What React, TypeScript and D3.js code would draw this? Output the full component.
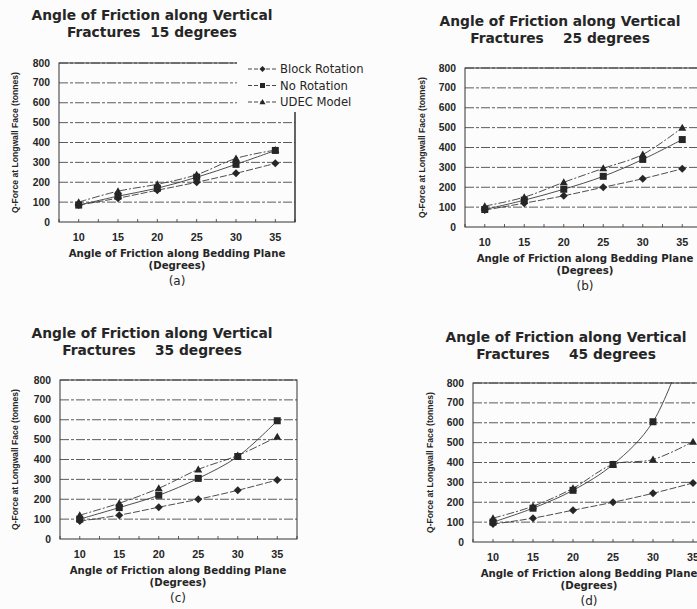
import * as d3 from "d3";

// x categories and y ticks
const angles = [10, 15, 20, 25, 30, 35];
const yTicks = [0, 100, 200, 300, 400, 500, 600, 700, 800];

// (a) vertical fractures 15 degrees
const blockRotation15 = [85, 120, 160, 200, 245, 295];
const noRotation15 = [85, 130, 170, 225, 290, 360];
const udec15 = [100, 155, 190, 238, 320, 362];

// (b) vertical fractures 25 degrees
const blockRotation25 = [85, 120, 157, 200, 243, 293];
const noRotation25 = [88, 135, 190, 255, 340, 440];
const udec25 = [105, 150, 225, 295, 365, 500];

// (c) vertical fractures 35 degrees
const blockRotation35 = [90, 120, 160, 200, 245, 297];
const noRotation35 = [100, 158, 220, 305, 415, 595];
const udec35 = [120, 180, 255, 350, 420, 515];

// (d) vertical fractures 45 degrees
const blockRotation45 = [90, 120, 160, 200, 245, 297];
const noRotation45 = [100, 170, 260, 390, 605, 1100];
const udec45 = [120, 180, 270, 390, 415, 505];

const seriesNames = ["Block Rotation", "No Rotation", "UDEC Model"];

const FONT = "'Liberation Sans', Arial, sans-serif";
const WIDE = "'DejaVu Sans', Verdana, sans-serif";
const INK = "#262626";

type Panel = {
  id: string;
  fracture: string;
  left: number;
  right: number;
  top: number;
  bottom: number;
  titleX: number;
  titleY: number;
  yLabelX: number;
  xTitleX: number;
  series: number[][];
  legend?: boolean;
};

const panels: Panel[] = [
  { id: "a", fracture: "Fractures  15 degrees", left: 59, right: 295, top: 63, bottom: 222, titleX: 152, titleY: 20, yLabelX: 15, xTitleX: 177, series: [blockRotation15, noRotation15, udec15], legend: true },
  { id: "b", fracture: "Fractures    25 degrees", left: 465, right: 702, top: 68, bottom: 227, titleX: 560, titleY: 26, yLabelX: 422, xTitleX: 585, series: [blockRotation25, noRotation25, udec25] },
  { id: "c", fracture: "Fractures    35 degrees", left: 60, right: 297, top: 380, bottom: 539, titleX: 152, titleY: 338, yLabelX: 15, xTitleX: 178, series: [blockRotation35, noRotation35, udec35] },
  { id: "d", fracture: "Fractures    45 degrees", left: 473, right: 713, top: 383, bottom: 542, titleX: 566, titleY: 342, yLabelX: 430, xTitleX: 589, series: [blockRotation45, noRotation45, udec45] },
];

// marker shapes: diamond, square, triangle
const marker = (k: number, x: number, y: number, s = 7) => {
  if (k === 0) {
    const h = s / 2 + 0.5;
    return <path d={`M${x},${y - h}L${x + h},${y}L${x},${y + h}L${x - h},${y}Z`} fill={INK} />;
  }
  if (k === 1) return <rect x={x - s / 2} y={y - s / 2} width={s} height={s} fill={INK} />;
  const h = s / 2 + 0.5;
  return <path d={`M${x},${y - h}L${x + h},${y + h * 0.75}L${x - h},${y + h * 0.75}Z`} fill={INK} />;
};

function ChartPanel({ p }: { p: Panel }) {
  const x = d3.scaleLinear().domain([7.5, 37.5]).range([p.left, p.right]);
  const y = d3.scaleLinear().domain([0, 800]).range([p.bottom, p.top]);
  const line = d3
    .line<number>()
    .x((_, i) => x(angles[i]))
    .y((d) => y(d))
    .curve(d3.curveCatmullRom.alpha(0.5));
  const cy = (p.top + p.bottom) / 2;
  const clipId = `clip-${p.id}`;
  const minorTicks = d3.range(7.5, 37.6, 2.5);

  return (
    <g>
      <defs>
        <clipPath id={clipId}>
          <rect x={p.left} y={p.top - 1} width={p.right - p.left} height={p.bottom - p.top + 2} />
        </clipPath>
      </defs>
      {/* title */}
      <text x={p.titleX} y={p.titleY} textAnchor="middle" fontFamily={WIDE} fontWeight="bold" fontSize={13.8} fill={INK}>
        Angle of Friction along Vertical
      </text>
      <text x={p.titleX} y={p.titleY + 17} textAnchor="middle" fontFamily={WIDE} fontWeight="bold" fontSize={13.8} fill={INK} style={{ whiteSpace: "pre" }}>
        {p.fracture}
      </text>
      {/* grid */}
      {yTicks.slice(1).map((t) => (
        <line key={t} x1={p.left} x2={p.right} y1={y(t)} y2={y(t)} stroke="#4a4a4a" strokeWidth={0.9} strokeDasharray="9 2 3 2" />
      ))}
      {/* frame */}
      <rect x={p.left} y={p.top} width={p.right - p.left} height={p.bottom - p.top} fill="none" stroke="#333" strokeWidth={1} />
      {minorTicks.map((t) => (
        <line key={t} x1={x(t)} x2={x(t)} y1={p.bottom} y2={p.bottom - 3} stroke="#333" strokeWidth={0.8} />
      ))}
      {/* y tick labels */}
      {yTicks.map((t) => (
        <text key={t} x={p.left - 9} y={y(t) + 3.5} textAnchor="end" fontFamily={FONT} fontWeight="bold" fontSize={10.3} fill={INK}>
          {t}
        </text>
      ))}
      {/* x tick labels */}
      {angles.map((a) => (
        <text key={a} x={x(a)} y={p.bottom + 19} textAnchor="middle" fontFamily={FONT} fontWeight="bold" fontSize={10.8} fill={INK}>
          {a}
        </text>
      ))}
      {/* axis titles */}
      <text x={p.xTitleX} y={p.bottom + 35} textAnchor="middle" fontFamily={WIDE} fontWeight="bold" fontSize={10.2} fill={INK}>
        Angle of Friction along Bedding Plane
      </text>
      <text x={p.xTitleX} y={p.bottom + 47} textAnchor="middle" fontFamily={WIDE} fontWeight="bold" fontSize={10.2} fill={INK}>
        (Degrees)
      </text>
      <text x={p.xTitleX} y={p.bottom + 63} textAnchor="middle" fontFamily={WIDE} fontSize={12} fill={INK}>
        ({p.id})
      </text>
      <text transform={`translate(${p.yLabelX + 3},${cy}) rotate(-90)`} textAnchor="middle" fontFamily={FONT} fontWeight="bold" fontSize={8.6} fill={INK}>
        Q-Force at Longwall Face (tonnes)
      </text>
      {/* series */}
      <g clipPath={`url(#${clipId})`}>
        {p.series.map((s, k) => (
          <path key={k} d={line(s) || ""} fill="none" stroke="#3a3a3a" strokeWidth={0.9} strokeDasharray={k === 0 ? "7 2" : k === 1 ? "none" : "8 2 2 2"} />
        ))}
        {p.series.map((s, k) =>
          s.map((v, i) => (v <= 800 ? <g key={`${k}-${i}`}>{marker(k, x(angles[i]), y(v))}</g> : null))
        )}
      </g>
      {/* legend */}
      {p.legend && (
        <g>
          <rect x={237} y={56} width={145} height={56} fill="#fcfcfc" />
          <line x1={p.right} x2={p.right} y1={112} y2={p.bottom} stroke="#333" />
          {seriesNames.map((n, k) => {
            const ly = 69 + k * 16.5;
            return (
              <g key={n}>
                <line x1={248} x2={277} y1={ly} y2={ly} stroke="#333" strokeWidth={0.9} strokeDasharray="4 2" />
                {marker(k, 262.5, ly, 5)}
                <text x={280} y={ly + 4} fontFamily={WIDE} fontSize={11.6} fill={INK}>
                  {n}
                </text>
              </g>
            );
          })}
        </g>
      )}
    </g>
  );
}

export default function App() {
  return (
    <svg
      width={697}
      height={609}
      style={{ position: "absolute", left: 0, top: 0, background: "#fcfcfc" }}
    >
      {panels.map((p) => (
        <ChartPanel key={p.id} p={p} />
      ))}
    </svg>
  );
}
